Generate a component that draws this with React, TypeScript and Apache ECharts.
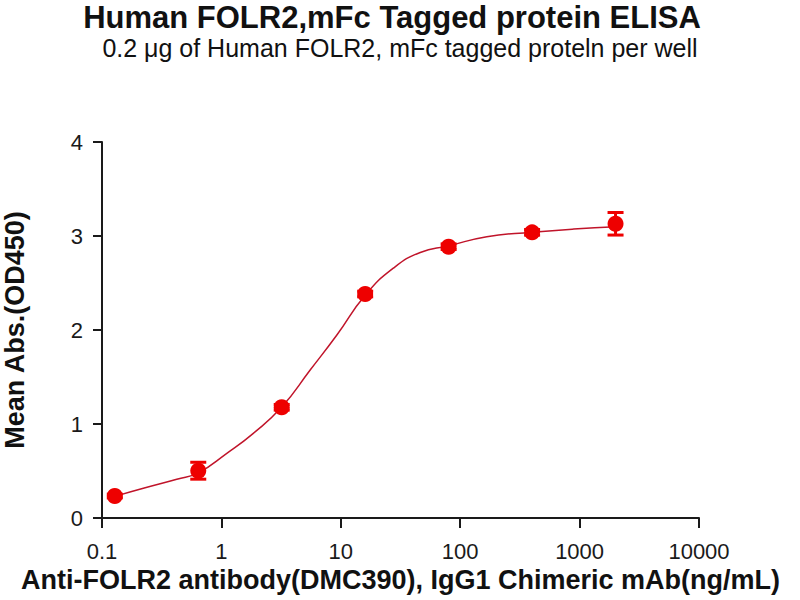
import React, { useEffect, useRef } from 'react'
import * as echarts from 'echarts'

// 5-fold dilution series
const concentrations = [0.128, 0.64, 3.2, 16, 80, 400, 2000]
const meanAbs = [0.234, 0.503, 1.178, 2.383, 2.886, 3.039, 3.13]
const sdAbs = [0.02, 0.09, 0.03, 0.03, 0.03, 0.03, 0.12]

// fitted curve
const fitX = [0.128, 0.222, 0.423, 0.64, 1.11, 1.85, 3.2, 5.54, 9.27, 16, 27.7, 46.3, 80, 167, 400, 893, 2000]
const fitY = [0.23, 0.316, 0.412, 0.48, 0.688, 0.901, 1.18, 1.574, 1.947, 2.37, 2.66, 2.825, 2.895, 2.993, 3.04, 3.074, 3.099]

const xTickLabels = ['0.1', '1', '10', '100', '1000', '10000']
const yTickLabels = ['0', '1', '2', '3', '4']

const TITLE = 'Human FOLR2,mFc Tagged protein ELISA'
const SUBTITLE = '0.2 \u03bcg of Human FOLR2, mFc tagged proteln per well'
const X_NAME = 'Anti-FOLR2 antibody(DMC390), IgG1 Chimeric mAb(ng/mL)'
const Y_NAME = 'Mean Abs.(OD450)'

const RED = '#ee0000'
const CURVE = '#c0142a'
const INK = '#1a1a1a'
const FONT = 'Liberation Sans, Arial, sans-serif'

const App: React.FC = () => {
  const chartRef = useRef<HTMLDivElement>(null)

  useEffect(() => {
    if (!chartRef.current) return
    const chart = echarts.init(chartRef.current, undefined, { renderer: 'svg' })

    const points = concentrations.map((c, i) => [c, meanAbs[i]])
    const bars = concentrations.map((c, i) => [c, meanAbs[i] - sdAbs[i], meanAbs[i] + sdAbs[i]])
    const fit = fitX.map((x, i) => [x, fitY[i]])

    const option = {
      animation: false,
      backgroundColor: '#ffffff',
      graphic: [
        {
          type: 'text',
          x: 392,
          y: 17,
          style: {
            text: TITLE,
            fill: '#111',
            fontSize: 31,
            fontWeight: 'bold',
            fontFamily: FONT,
            textAlign: 'center',
            textVerticalAlign: 'middle'
          }
        },
        {
          type: 'text',
          x: 400,
          y: 48,
          style: {
            text: SUBTITLE,
            fill: '#111',
            fontSize: 25,
            fontFamily: FONT,
            textAlign: 'center',
            textVerticalAlign: 'middle'
          }
        }
      ],
      grid: { left: 102, right: 101, top: 142, bottom: 82, outerBoundsMode: 'none', containLabel: false },
      xAxis: {
        type: 'log',
        logBase: 10,
        min: 0.1,
        max: 10000,
        name: X_NAME,
        nameLocation: 'middle',
        nameGap: 47,
        nameTextStyle: { fontSize: 27, fontWeight: 'bold', color: '#111', fontFamily: FONT },
        axisLine: { lineStyle: { color: INK, width: 2 } },
        axisTick: { length: 10, lineStyle: { color: INK, width: 2 } },
        minorTick: { show: false },
        splitLine: { show: false },
        axisLabel: {
          fontSize: 22,
          color: INK,
          fontFamily: FONT,
          margin: 22,
          formatter: (v: number) => xTickLabels[Math.round(Math.log10(v)) + 1] ?? ''
        }
      },
      yAxis: {
        type: 'value',
        min: 0,
        max: 4,
        interval: 1,
        name: Y_NAME,
        nameLocation: 'middle',
        nameGap: 74,
        nameTextStyle: { fontSize: 27, fontWeight: 'bold', color: '#111', fontFamily: FONT },
        axisLine: { show: true, lineStyle: { color: INK, width: 2 } },
        axisTick: { show: true, length: 9, lineStyle: { color: INK, width: 2 } },
        splitLine: { show: false },
        axisLabel: {
          fontSize: 22,
          color: INK,
          fontFamily: FONT,
          margin: 19,
          formatter: (v: number) => yTickLabels[Math.round(v)] ?? ''
        }
      },
      series: [
        {
          type: 'line',
          data: fit,
          smooth: 0.5,
          showSymbol: false,
          lineStyle: { color: CURVE, width: 1.5 },
          z: 2
        },
        {
          type: 'custom',
          data: bars,
          encode: { x: 0, y: [1, 2] },
          renderItem: (_params: any, api: any) => {
            const x = api.value(0)
            const top = api.coord([x, api.value(2)])
            const bot = api.coord([x, api.value(1)])
            const half = 8
            const style = { stroke: RED, lineWidth: 3 }
            return {
              type: 'group',
              children: [
                { type: 'line', shape: { x1: top[0], y1: top[1], x2: bot[0], y2: bot[1] }, style },
                { type: 'line', shape: { x1: top[0] - half, y1: top[1], x2: top[0] + half, y2: top[1] }, style },
                { type: 'line', shape: { x1: bot[0] - half, y1: bot[1], x2: bot[0] + half, y2: bot[1] }, style }
              ]
            }
          },
          z: 3
        },
        {
          type: 'scatter',
          data: points,
          symbol: 'circle',
          symbolSize: 16,
          itemStyle: { color: RED, opacity: 1 },
          z: 4
        }
      ]
    }

    chart.setOption(option)
    return () => {
      chart.dispose()
    }
  }, [])

  return (
    <div
      ref={chartRef}
      style={{ position: 'fixed', left: 0, top: 0, width: '800px', height: '600px', background: '#fff' }}
    />
  )
}

export default App
